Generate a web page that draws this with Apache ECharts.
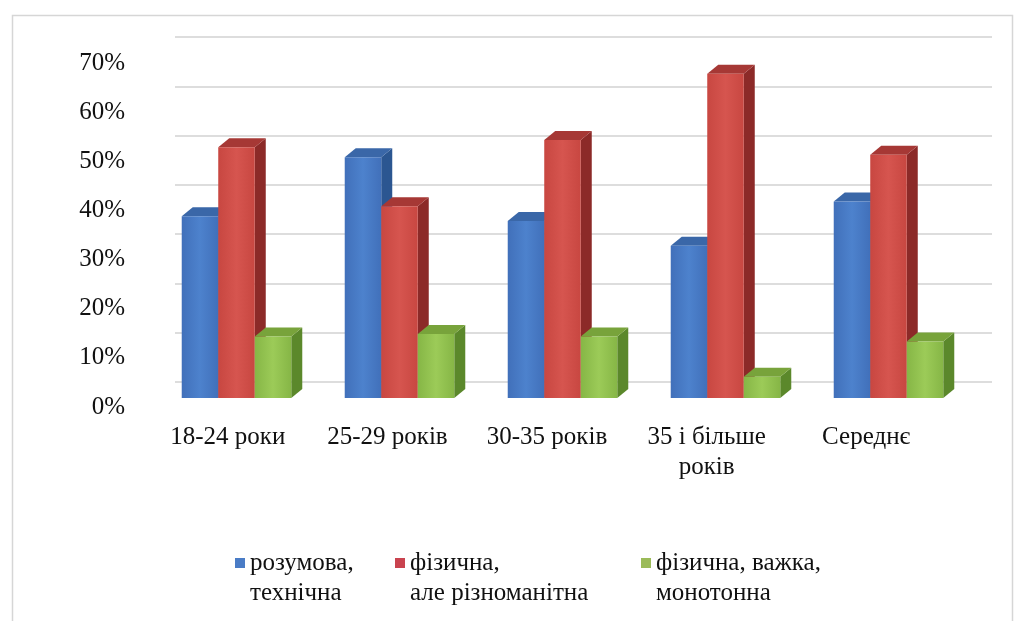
<!DOCTYPE html>
<html>
<head>
<meta charset="utf-8">
<script src="https://cdn.jsdelivr.net/npm/echarts@6/dist/echarts.min.js"></script>
<style>
html,body{margin:0;padding:0;background:#fff;}
#chart{width:1020px;height:621px;}
</style>
</head>
<body>
<div id="chart"></div>
<script>
// ---- data ----
const categories = ['18-24 роки', '25-29 років', '30-35 років', '35 і більше\nроків', 'Середнє'];
const seriesNames = ['розумова,\nтехнічна', 'фізична,\nале різноманітна', 'фізична, важка,\nмонотонна'];
const razumova = [0.37, 0.49, 0.36, 0.31, 0.40];
const fizychna = [0.51, 0.39, 0.525, 0.66, 0.495];
const vazhka = [0.125, 0.13, 0.125, 0.043, 0.115];
const yTicks = [0, 0.1, 0.2, 0.3, 0.4, 0.5, 0.6, 0.7];

// ---- styles ----
const FONT = '"Liberation Serif", "Times New Roman", serif';
const palette = [
  {front: ['#4170ba', '#4d82cd', '#4170ba'], side: '#2b5691', top: '#3a67a8', legend: '#4a7cc6'},
  {front: ['#c84741', '#d6554f', '#c84741'], side: '#8c2a28', top: '#a63835', legend: '#c9434f'},
  {front: ['#86b646', '#9ccb58', '#86b646'], side: '#5b882b', top: '#78a33b', legend: '#9bbb59'}
];
const DX = 11, DY = -9;

function makeRender(si) {
  const p = palette[si];
  return function (params, api) {
    const c = api.coord([api.value(0), api.value(1)]);
    const b = api.coord([api.value(0), 0]);
    const band = api.size([1, 0])[0];
    const w = band * 0.224;
    const x0 = c[0] + (si - 1) * w - w / 2;
    const x1 = x0 + w;
    const yT = c[1], yB = b[1];
    const grad = {type: 'linear', x: 0, y: 0, x2: 1, y2: 0,
      colorStops: [{offset: 0, color: p.front[0]}, {offset: 0.5, color: p.front[1]}, {offset: 1, color: p.front[2]}]};
    return {
      type: 'group',
      children: [
        {type: 'polygon', shape: {points: [[x1, yB], [x1 + DX, yB + DY], [x1 + DX, yT + DY], [x1, yT]]},
         style: {fill: p.side}},
        {type: 'polygon', shape: {points: [[x0, yT], [x0 + DX, yT + DY], [x1 + DX, yT + DY], [x1, yT]]},
         style: {fill: p.top}},
        {type: 'rect', shape: {x: x0, y: yT, width: w, height: yB - yT},
         style: {fill: grad}}
      ]
    };
  };
}

const valuesList = [razumova, fizychna, vazhka];
const series = valuesList.map((vals, si) => ({
  type: 'custom',
  name: seriesNames[si],
  xAxisIndex: 2,
  yAxisIndex: 2,
  itemStyle: {color: palette[si].legend},
  renderItem: makeRender(si),
  data: vals.map((v, i) => [i, v]),
  z: 5
}));

const legendLefts = [235, 395, 641];
const legends = seriesNames.map((n, i) => ({
  data: [n],
  left: legendLefts[i],
  top: 518,
  padding: 0,
  icon: 'rect',
  itemWidth: 10,
  itemHeight: 10,
  selectedMode: false,
  formatter: name => '\n' + name,
  textStyle: {fontFamily: FONT, fontSize: 25, color: '#111111', lineHeight: 30}
}));

const chart = echarts.init(document.getElementById('chart'), null, {renderer: 'canvas'});
chart.setOption({
  backgroundColor: '#ffffff',
  animation: false,
  graphic: [{
    type: 'rect', left: 10, top: 13, z: -10,
    shape: {width: 1000, height: 640},
    style: {fill: 'none', stroke: '#d6d6d6', lineWidth: 1.5}
  }],
  legend: legends,
  grid: [
    // 0: y labels
    {left: 133, right: 50, top: 63, bottom: 214},
    // 1: back wall gridlines
    {left: 175, right: 28, top: 37, bottom: 239},
    // 2: bars
    {left: 155, right: 50, top: 54, bottom: 223},
    // 3: x labels
    {left: 148, right: 74, top: 54, bottom: 223}
  ],
  xAxis: [
    {gridIndex: 0, type: 'category', data: categories, show: false},
    {gridIndex: 1, type: 'category', data: categories, show: false},
    {gridIndex: 2, type: 'category', data: categories, show: false},
    {gridIndex: 3, type: 'category', data: categories,
     axisLine: {show: false}, axisTick: {show: false},
     axisLabel: {margin: 24, interval: 0, fontFamily: FONT, fontSize: 25, color: '#111111', lineHeight: 30}}
  ],
  yAxis: [
    {gridIndex: 0, type: 'value', min: 0, max: 0.7, interval: 0.1,
     axisLine: {show: false}, axisTick: {show: false}, splitLine: {show: false},
     axisLabel: {margin: 8, fontFamily: FONT, fontSize: 25, color: '#111111',
       formatter: v => Math.round(v * 100) + '%'}},
    {gridIndex: 1, type: 'value', min: 0, max: 0.7, interval: 0.1,
     axisLine: {show: false}, axisTick: {show: false}, axisLabel: {show: false},
     splitLine: {show: true, lineStyle: {color: '#d2d2d2', width: 1.5}}},
    {gridIndex: 2, type: 'value', min: 0, max: 0.7, interval: 0.1, show: false},
    {gridIndex: 3, type: 'value', min: 0, max: 0.7, interval: 0.1, show: false}
  ],
  series: series
});
</script>
</body>
</html>
